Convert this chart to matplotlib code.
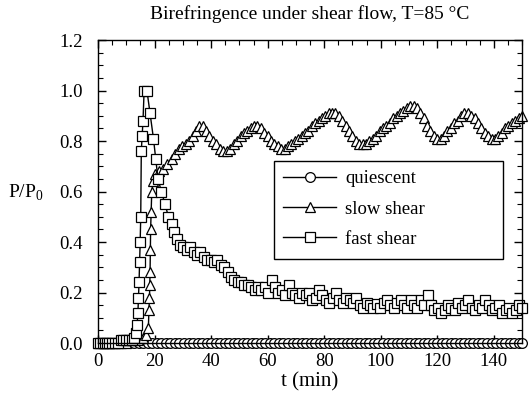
import numpy as np
import matplotlib
matplotlib.use("Agg")
import matplotlib.pyplot as plt
from matplotlib.ticker import MultipleLocator
from matplotlib.patches import Rectangle

plt.rcParams['font.family'] = ['Liberation Serif', 'DejaVu Serif']
plt.rcParams['mathtext.fontset'] = 'custom'
plt.rcParams['mathtext.rm'] = 'Liberation Serif'

# quiescent: flat at zero for the whole run
t_quiescent = [0.0, 1.6, 3.2, 4.8, 6.4, 8.0, 9.6, 11.2, 12.8, 14.4, 16.0, 17.6, 19.2, 20.8,
               22.4, 24.0, 25.6, 27.2, 28.8, 30.4, 32.0, 33.6, 35.2, 36.8, 38.4, 40.0, 41.6,
               43.2, 44.8, 46.4, 48.0, 49.6, 51.2, 52.8, 54.4, 56.0, 57.6, 59.2, 60.8, 62.4,
               64.0, 65.6, 67.2, 68.8, 70.4, 72.0, 73.6, 75.2, 76.8, 78.4, 80.0, 81.6, 83.2,
               84.8, 86.4, 88.0, 89.6, 91.2, 92.8, 94.4, 96.0, 97.6, 99.2, 100.8, 102.4, 104.0,
               105.6, 107.2, 108.8, 110.4, 112.0, 113.6, 115.2, 116.8, 118.4, 120.0, 121.6,
               123.2, 124.8, 126.4, 128.0, 129.6, 131.2, 132.8, 134.4, 136.0, 137.6, 139.2,
               140.8, 142.4, 144.0, 145.6, 147.2, 148.8, 150.0]
p_quiescent = [0.0] * len(t_quiescent)

# slow shear
t_slow = [0, 2, 4, 6, 8, 10, 12, 14, 16, 17, 17.8, 18.0, 18.2, 18.3, 18.4, 18.5, 18.6, 18.8,
          19.0, 19.5, 20.3, 21.5, 23.0, 24.5, 26.0, 27.3, 28.5, 29.7, 31.0, 32.2, 33.5, 34.7,
          35.8, 37.0, 38.2, 39.4, 40.6, 41.8, 43.0, 44.3, 45.5, 46.7, 48.0, 49.2, 50.4, 51.6,
          52.8, 54.0, 55.2, 56.4, 57.6, 58.8, 60.0, 61.2, 62.4, 63.6, 64.8, 66.0, 67.2, 68.4,
          69.6, 70.8, 72.0, 73.2, 74.4, 75.6, 76.8, 78.0, 79.2, 80.4, 81.6, 82.8, 84.0, 85.2,
          86.4, 87.6, 88.8, 90.0, 91.2, 92.4, 93.6, 94.8, 96.0, 97.2, 98.4, 99.6, 100.8, 102.0,
          103.2, 104.4, 105.6, 106.8, 108.0, 109.2, 110.4, 111.6, 112.8, 114.0, 115.2, 116.4,
          117.6, 118.8, 120.0, 121.2, 122.4, 123.6, 124.8, 126.0, 127.2, 128.4, 129.6, 130.8,
          132.0, 133.2, 134.4, 135.6, 136.8, 138.0, 139.2, 140.4, 141.6, 142.8, 144.0, 145.2,
          146.4, 147.6, 148.8, 150.0]
p_slow = [0, 0, 0, 0, 0, 0, 0.01, 0.01, 0.02, 0.03, 0.06, 0.13, 0.18, 0.23, 0.28, 0.37, 0.45,
          0.52, 0.60, 0.64, 0.67, 0.68, 0.69, 0.71, 0.73, 0.75, 0.77, 0.78, 0.79, 0.80, 0.82,
          0.84, 0.86, 0.86, 0.84, 0.82, 0.80, 0.79, 0.77, 0.76, 0.76, 0.77, 0.79, 0.80, 0.82,
          0.83, 0.84, 0.85, 0.86, 0.86, 0.85, 0.83, 0.82, 0.80, 0.79, 0.78, 0.77, 0.77, 0.78,
          0.79, 0.80, 0.81, 0.82, 0.83, 0.84, 0.86, 0.87, 0.88, 0.89, 0.90, 0.91, 0.91, 0.91,
          0.90, 0.88, 0.86, 0.84, 0.82, 0.80, 0.79, 0.79, 0.79, 0.80, 0.81, 0.82, 0.84, 0.85,
          0.86, 0.87, 0.89, 0.90, 0.91, 0.92, 0.93, 0.94, 0.94, 0.93, 0.91, 0.89, 0.86, 0.84,
          0.82, 0.81, 0.81, 0.82, 0.84, 0.85, 0.87, 0.88, 0.90, 0.91, 0.91, 0.90, 0.89, 0.87,
          0.85, 0.83, 0.82, 0.81, 0.81, 0.82, 0.83, 0.85, 0.86, 0.87, 0.88, 0.89, 0.90]

# fast shear
t_fast = [0, 0.8, 1.6, 2.4, 3.2, 4.0, 5, 6, 7, 8, 9, 10, 11, 12, 12.8, 13.4, 13.8, 14.1, 14.3,
          14.5, 14.7, 14.9, 15.1, 15.3, 15.6, 15.9, 16.3, 17.3, 18.4, 19.6, 20.4, 21.2, 22.4,
          23.7, 24.9, 26.0, 27.0, 28.0, 29.0, 30.2, 31.4, 32.6, 33.8, 35.0, 36.2, 37.4, 38.6,
          39.8, 41.0, 42.2, 43.4, 44.6, 45.8, 47.0, 48.2, 49.4, 50.6, 51.8, 53.0, 54.2, 55.4,
          56.6, 57.8, 59.0, 60.2, 61.4, 62.6, 63.8, 65.0, 66.2, 67.4, 68.6, 69.8, 71.0, 72.2,
          73.4, 74.6, 75.8, 77.0, 78.2, 79.4, 80.6, 81.8, 83.0, 84.2, 85.4, 86.6, 87.8, 89.0,
          90.2, 91.4, 92.6, 93.8, 95.0, 96.2, 97.4, 98.6, 99.8, 101.0, 102.2, 103.4, 104.6,
          105.8, 107.0, 108.2, 109.4, 110.6, 111.8, 113.0, 114.2, 115.4, 116.6, 117.8, 119.0,
          120.2, 121.4, 122.6, 123.8, 125.0, 126.2, 127.4, 128.6, 129.8, 131.0, 132.2, 133.4,
          134.6, 135.8, 137.0, 138.2, 139.4, 140.6, 141.8, 143.0, 144.2, 145.4, 146.6, 147.8,
          149.0, 150.0]
p_fast = [0, 0, 0, 0, 0, 0, 0, 0, 0, 0.01, 0.01, 0.01, 0.01, 0.01, 0.02, 0.04, 0.07, 0.12, 0.18,
          0.24, 0.32, 0.40, 0.50, 0.76, 0.82, 0.88, 1.0, 1.0, 0.91, 0.81, 0.73, 0.65, 0.60,
          0.55, 0.50, 0.47, 0.44, 0.41, 0.39, 0.38, 0.37, 0.38, 0.36, 0.35, 0.36, 0.34, 0.33,
          0.33, 0.32, 0.33, 0.31, 0.30, 0.28, 0.26, 0.25, 0.24, 0.24, 0.23, 0.23, 0.22, 0.21,
          0.22, 0.21, 0.22, 0.20, 0.25, 0.22, 0.20, 0.21, 0.19, 0.23, 0.20, 0.19, 0.18, 0.20,
          0.19, 0.20, 0.17, 0.18, 0.21, 0.19, 0.17, 0.16, 0.18, 0.20, 0.17, 0.16, 0.18, 0.17,
          0.16, 0.18, 0.15, 0.14, 0.16, 0.15, 0.14, 0.155, 0.14, 0.16, 0.17, 0.15, 0.14,
          0.16, 0.17, 0.15, 0.14, 0.17, 0.15, 0.14, 0.17, 0.15, 0.19, 0.15, 0.13,
          0.14, 0.12, 0.13, 0.15, 0.14, 0.13, 0.16, 0.14, 0.15, 0.17, 0.14, 0.13,
          0.15, 0.14, 0.17, 0.15, 0.13, 0.14, 0.15, 0.12, 0.13, 0.14, 0.12, 0.13,
          0.15, 0.14]

fig = plt.figure(figsize=(5.3, 3.94), dpi=100)
ax = fig.add_axes([0.185, 0.1294, 0.8, 0.769])

style = dict(color='black', lw=1.0, mfc='white', mec='black', mew=0.9, clip_on=False)
ax.plot(t_quiescent, p_quiescent, marker='o', ms=7, label='quiescent', **style)
ax.plot(t_slow, p_slow, marker='^', ms=7.5, label='slow shear', **style)
ax.plot(t_fast, p_fast, marker='s', ms=7, label='fast shear', **style)

ax.set_xlim(0, 150)
ax.set_ylim(0, 1.2)
ax.xaxis.set_major_locator(MultipleLocator(20))
ax.xaxis.set_minor_locator(MultipleLocator(5))
ax.yaxis.set_major_locator(MultipleLocator(0.2))
ax.yaxis.set_minor_locator(MultipleLocator(0.05))
ax.yaxis.set_major_formatter(plt.FormatStrFormatter('%.1f'))
ax.tick_params(which='both', direction='in', top=True, right=True, labelsize=13.5)
ax.tick_params(which='major', length=6, width=1)
ax.tick_params(which='minor', length=3.5, width=0.8)
ax.tick_params(axis='y', pad=11)
ax.tick_params(axis='x', pad=7)
for s in ax.spines.values():
    s.set_linewidth(1)

ax.set_xlabel('t (min)', fontsize=15, labelpad=2)
fig.text(8 / 530, 1 - 193 / 394, 'P/P$_{\\mathregular{0}}$', fontsize=14, ha='left', va='center')
fig.text(310 / 530, 1 - 14 / 394, 'Birefringence under shear flow, T=85 \u00b0C', fontsize=14,
         ha='center', va='center')

# legend entries without frame, box drawn separately (it is wider than the entries)
leg = ax.legend(loc='upper left', bbox_to_anchor=(0.415, 0.601), fontsize=13.5, frameon=False,
                handlelength=2.8, handletextpad=0.5, labelspacing=0.7, borderpad=0.5,
                borderaxespad=0)
ax.add_patch(Rectangle((0.415, 0.277), 0.54, 0.324, transform=ax.transAxes, fill=False,
                       edgecolor='black', lw=1, zorder=5))

fig.savefig('out.png', dpi=100)
